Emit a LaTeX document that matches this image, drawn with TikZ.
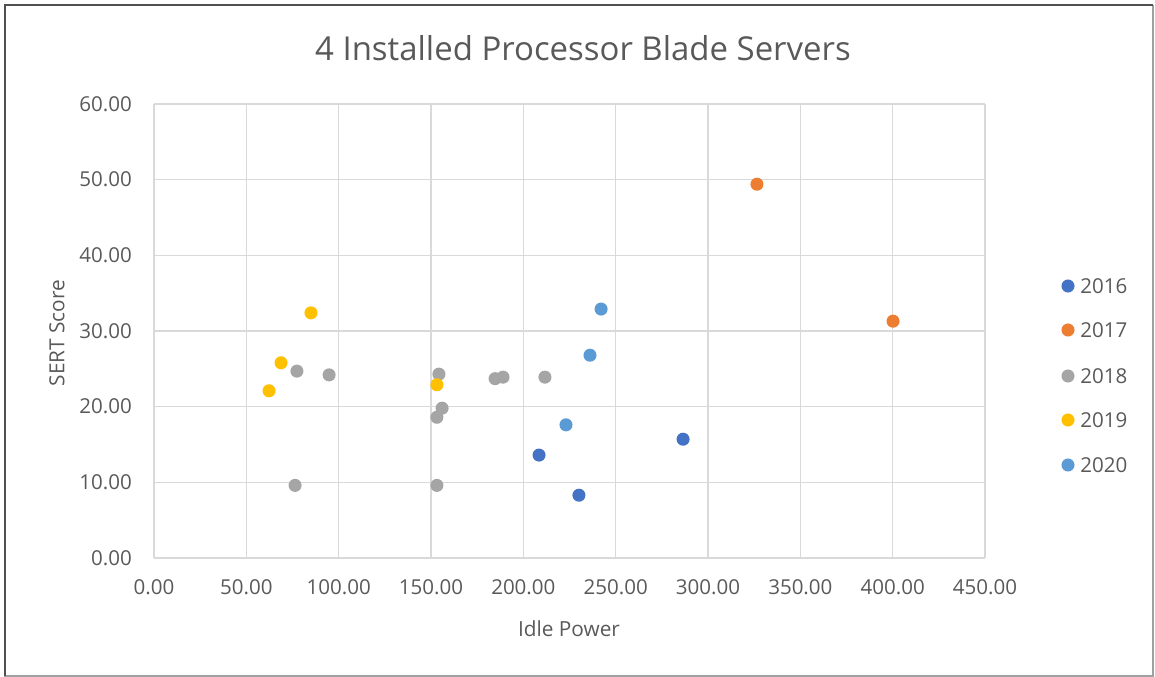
\documentclass[tikz,border=0pt]{standalone}
\usepackage{fontspec}
\setmainfont{Open Sans}
\usetikzlibrary{positioning}
\definecolor{Ser2016}{HTML}{4472C4}
\definecolor{Ser2017}{HTML}{ED7D31}
\definecolor{Ser2018}{HTML}{A5A5A5}
\definecolor{Ser2019}{HTML}{FFC000}
\definecolor{Ser2020}{HTML}{5B9BD5}
\definecolor{GridGray}{HTML}{D9D9D9}
\definecolor{LabelGray}{HTML}{595959}
\definecolor{FrameDark}{HTML}{505050}
\definecolor{FrameLight}{HTML}{A0A0A0}
\newcommand{\dotr}{4.9pt}
\tikzset{
  gridline/.style={GridGray,line width=1.15pt},
  ticklabel/.style={inner sep=0pt,font=\fontsize{15.4}{17}\selectfont,text=LabelGray},
  axistitle/.style={inner sep=0pt,font=\fontsize{15.6}{18}\selectfont,text=LabelGray},
}

\begin{document}
\begin{tikzpicture}[x=0.75pt,y=-0.75pt]
  \useasboundingbox (0,0) rectangle (1155,677);
  % frame
  \draw[FrameLight,line width=1.2pt] (4.5,5.5) rectangle (1153,676);
  \draw[FrameDark,line width=1.5pt] (4.5,676) |- (1153,5.5);
  \node[inner sep=0pt,font=\fontsize{24.7}{28}\selectfont,text=LabelGray] (title) at (583,48) {4 Installed Processor Blade Servers};
  % plot area, data coordinates
  \begin{scope}[shift={(154,558)},x=1.385pt,y=5.675pt]
    \foreach \x in {0,50,...,450}
      \draw[gridline] (\x,0) -- (\x,60);
    \foreach \y in {0,10,...,60}
      \draw[gridline] (0,\y) -- (450,\y);
    \foreach \x in {0,50,...,450}
      \node[ticklabel,yshift=-21.75pt] (xt\x) at (\x,0) {\x.00};
    \foreach \y in {0,10,...,60}
      \node[ticklabel,anchor=east,xshift=-16.5pt] (yt\y) at (0,\y) {\y.00};
    % series
    \foreach \px/\py in {208.5/13.6,230.1/8.3,286.5/15.7}
      \fill[Ser2016] (\px,\py) circle[radius=\dotr];
    \foreach \px/\py in {326.5/49.4,400.2/31.3}
      \fill[Ser2017] (\px,\py) circle[radius=\dotr];
    \foreach \px/\py in {77.4/24.7,94.8/24.2,76.4/9.6,154.3/24.3,156.0/19.8,
                         153.2/18.6,153.2/9.6,184.7/23.7,189.0/23.9,211.7/23.9}
      \fill[Ser2018] (\px,\py) circle[radius=\dotr];
    \foreach \px/\py in {62.3/22.1,68.8/25.8,85.0/32.4,153.2/22.9}
      \fill[Ser2019] (\px,\py) circle[radius=\dotr];
    \foreach \px/\py in {242.1/32.9,236.1/26.8,223.1/17.6}
      \fill[Ser2020] (\px,\py) circle[radius=\dotr];
  \end{scope}
  \node[axistitle] (xtitle) at (569,629) {Idle Power};
  \node[axistitle,rotate=90] (ytitle) at (57,333) {SERT Score};
  % legend
  \foreach \yr/\py in {2016/286,2017/330,2018/376,2019/420,2020/465} {
    \fill[Ser\yr] (1068,\py) circle[radius=\dotr];
    \node[ticklabel,anchor=west] (leg\yr) at (1080,\py) {\yr};
  }
\end{tikzpicture}
\end{document}
